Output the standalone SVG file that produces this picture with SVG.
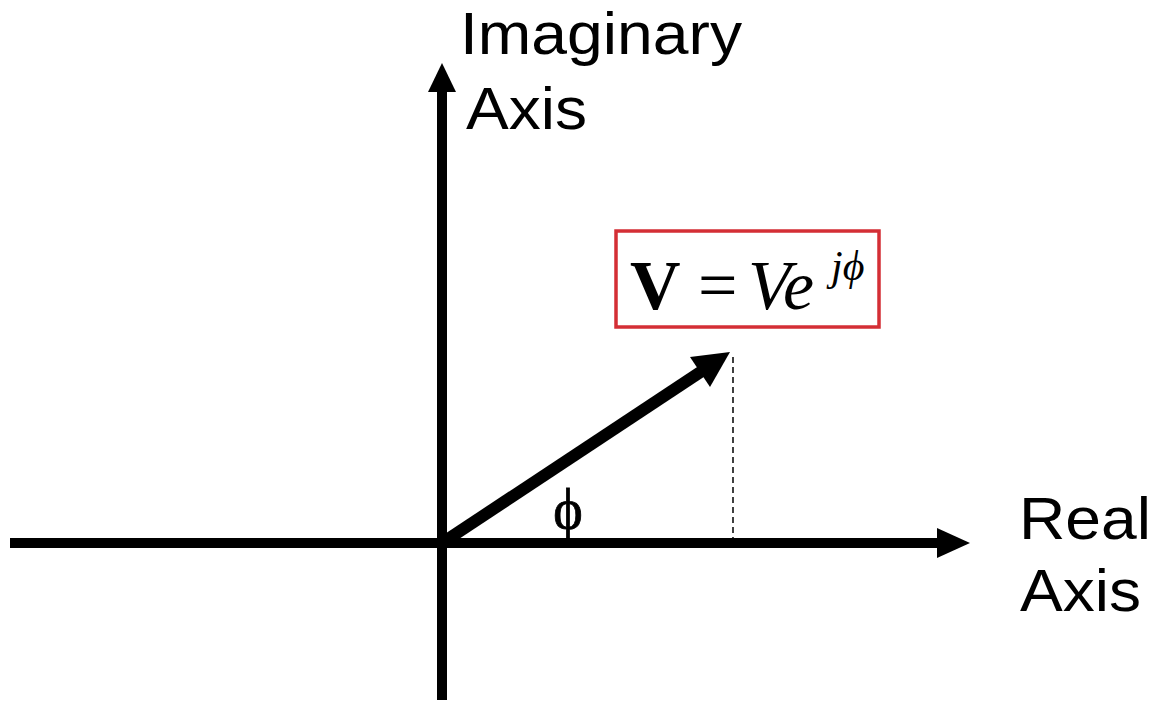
<svg xmlns="http://www.w3.org/2000/svg" width="1156" height="702" viewBox="0 0 1156 702">
<style>
.lbl{font-family:"Liberation Sans",Arial,sans-serif;font-size:60px;fill:#000}
.math{font-family:"Liberation Serif","Times New Roman",serif;fill:#000}
.ax{stroke:#000;stroke-width:10;fill:none}
</style>
<rect width="1156" height="702" fill="#fff"/>
<g id="connectors">
<line class="ax" x1="10" y1="543" x2="940" y2="543"/>
<polygon points="970,543 937,528 937,558" fill="#000"/>
<line class="ax" x1="442" y1="700" x2="442" y2="88"/>
<polygon points="442,63 428,92 456,92" fill="#000"/>
<line x1="442" y1="543" x2="705" y2="369" stroke="#000" stroke-width="12"/>
<polygon points="730,352 690,357 710,387" fill="#000"/>
<line x1="733" y1="357" x2="733" y2="543" stroke="#000" stroke-width="1.5" stroke-dasharray="6 4"/>
</g>
<g id="imag-label"><text class="lbl" x="460" y="54" textLength="282" lengthAdjust="spacingAndGlyphs">Imaginary</text><text class="lbl" x="466" y="129" textLength="121" lengthAdjust="spacingAndGlyphs">Axis</text></g>
<g id="real-label"><text class="lbl" x="1019" y="539" textLength="132" lengthAdjust="spacingAndGlyphs">Real</text><text class="lbl" x="1020" y="611" textLength="121" lengthAdjust="spacingAndGlyphs">Axis</text></g>
<g id="phi"><text class="math" x="568" y="528" font-size="56" text-anchor="middle" stroke="#000" stroke-width="0.8">ϕ</text></g>
<g id="formula">
<rect x="616" y="231" width="263" height="96" fill="#fff" stroke="#d42e35" stroke-width="3.5"/>
<text class="math" x="630" y="309" font-size="70" font-weight="bold">V</text>
<text class="math" x="698" y="309" font-size="70">=</text>
<text class="math" x="748" y="309" font-size="70" font-style="italic">Ve</text>
<text class="math" x="831" y="280" font-size="42" font-style="italic">jϕ</text>
</g>
</svg>
